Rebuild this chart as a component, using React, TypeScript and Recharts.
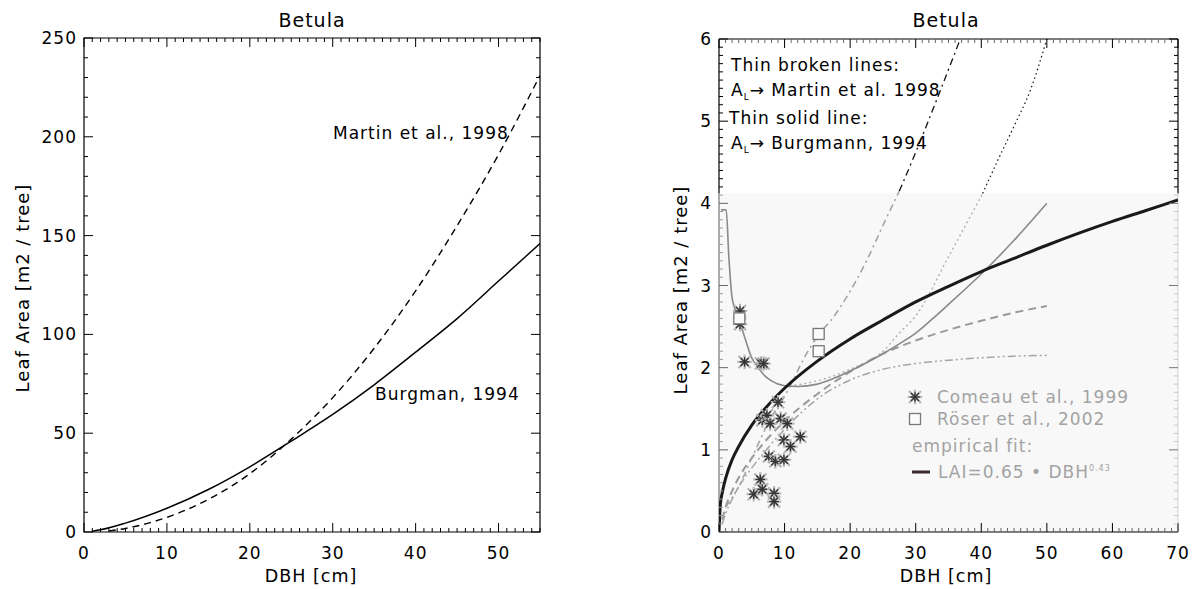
import React from 'react';
import { ComposedChart, Line, Scatter, XAxis, YAxis, ReferenceArea, ReferenceLine } from 'recharts';

const FONT = '"DejaVu Sans", sans-serif';

// ---- left panel: leaf area per tree vs DBH
const burgmanDbh = [1, 2, 5, 10, 15, 20, 25, 30, 35, 40, 45, 50, 55];
const burgmanArea = [0.4, 1.1, 4.5, 12, 21.5, 33, 46, 59.5, 74.5, 91, 108, 127, 146];
const martinDbh = [3, 5, 10, 15, 20, 25, 30, 35, 40, 45, 50, 55];
const martinArea = [0.5, 1.8, 7.4, 16.5, 29.5, 47, 68, 93, 122, 155, 191, 231];
const leftXLabels = [0, 10, 20, 30, 40, 50];
const leftYLabels = [0, 50, 100, 150, 200, 250];

// ---- right panel: LAI vs DBH
const fitDbh = [0, 0.2, 0.5, 1, 2, 3, 5, 7, 10, 15, 20, 25, 30, 35, 40, 45, 50, 55, 60, 65, 70];
const fitLai = [0, 0.33, 0.48, 0.65, 0.88, 1.04, 1.3, 1.5, 1.75, 2.08, 2.35, 2.58, 2.8, 2.99, 3.17, 3.33, 3.49, 3.64, 3.78, 3.91, 4.04];
const burgmannDbh = [0.3, 1.1, 1.5, 2, 3, 4, 5, 6, 7, 8, 10, 12, 15, 17.5, 20, 22.5, 25, 27.5, 30, 32.5, 35, 40, 45, 50];
const burgmannLai = [3.92, 3.92, 3.35, 2.85, 2.6, 2.35, 2.12, 2.0, 1.9, 1.84, 1.78, 1.77, 1.8, 1.87, 1.96, 2.06, 2.17, 2.29, 2.42, 2.59, 2.77, 3.14, 3.55, 4.0];
const dashDotLowDbh = [1, 3, 5, 8, 10, 11, 13, 15, 17.5, 20, 22.5, 25, 27.5];
const dashDotLowLai = [0.3, 0.55, 0.9, 1.4, 1.65, 1.8, 2.12, 2.38, 2.62, 2.93, 3.3, 3.73, 4.15];
const dashDotUpDbh = [27.5, 30, 33, 36.8];
const dashDotUpLai = [4.15, 4.62, 5.22, 6.0];
const dottedLowDbh = [10, 15, 20, 25, 27.5, 30, 35, 40.2];
const dottedLowLai = [1.77, 1.84, 1.98, 2.2, 2.42, 2.63, 3.35, 4.12];
const dottedUpDbh = [40.2, 42.5, 45, 47.5, 50];
const dottedUpLai = [4.12, 4.52, 4.94, 5.38, 6.0];
const dashedDbh = [0.5, 1, 2, 3, 5, 7, 10, 15, 20, 25, 30, 35, 40, 45, 50];
const dashedLai = [0.15, 0.3, 0.5, 0.66, 0.9, 1.1, 1.35, 1.68, 1.95, 2.17, 2.33, 2.46, 2.57, 2.67, 2.75];
const dash3Dbh = [0.5, 1, 2, 3, 5, 7, 10, 12.5, 15, 20, 25, 30, 35, 40, 45, 50];
const dash3Lai = [0.1, 0.22, 0.4, 0.55, 0.78, 0.98, 1.25, 1.45, 1.62, 1.85, 1.98, 2.05, 2.09, 2.12, 2.14, 2.15];
const comeauDbh = [3.2, 3.2, 3.9, 6.4, 6.8, 9.0, 6.6, 7.3, 7.8, 9.4, 10.4, 9.9, 10.9, 12.4, 7.6, 8.6, 9.9, 6.3, 5.3, 6.6, 8.4, 8.4];
const comeauLai = [2.69, 2.53, 2.07, 2.05, 2.05, 1.58, 1.36, 1.42, 1.32, 1.38, 1.32, 1.12, 1.04, 1.16, 0.92, 0.86, 0.88, 0.64, 0.46, 0.52, 0.47, 0.37];
const roeserDbh = [3.1, 15.2, 15.2];
const roeserLai = [2.6, 2.41, 2.2];
const rightXLabels = [0, 10, 20, 30, 40, 50, 60, 70];
const rightYLabels = [0, 1, 2, 3, 4, 5, 6];
const shadeTop = 4.12;

const zip = (xs: number[], ys: number[]) => xs.map((x, i) => ({ x, y: ys[i] }));
const steps = (max: number, step: number) =>
  Array.from({ length: Math.round(max / step) + 1 }, (_, i) => Math.round(i * step * 100) / 100);
const hasLabel = (labels: number[], v: number) => labels.some((l) => Math.abs(l - v) < 1e-6);

const tickText = { fontFamily: FONT, fontSize: 17, letterSpacing: 1, fill: '#000' };

function xTick(labels: number[], plotH: number, minorColor: (v: number) => string) {
  return (p: any) => {
    const { x, y, payload } = p;
    const v = payload.value;
    const major = hasLabel(labels, v);
    const len = major ? 9 : 4;
    const c = major ? '#000' : minorColor(v);
    return (
      <g>
        <line x1={x} y1={y} x2={x} y2={y - len} stroke={c} />
        <line x1={x} y1={y - plotH} x2={x} y2={y - plotH + len} stroke={c} />
        {major && (
          <text x={x} y={y + 21} textAnchor="middle" dominantBaseline="central" {...tickText}>
            {v}
          </text>
        )}
      </g>
    );
  };
}

function yTick(labels: number[], plotW: number, leftColor: (v: number, m: boolean) => string, rightColor: (v: number, m: boolean) => string) {
  return (p: any) => {
    const { x, y, payload } = p;
    const v = payload.value;
    const major = hasLabel(labels, v);
    const len = major ? 9 : 4;
    return (
      <g>
        <line x1={x} y1={y} x2={x + len} y2={y} stroke={leftColor(v, major)} />
        <line x1={x + plotW} y1={y} x2={x + plotW - len} y2={y} stroke={rightColor(v, major)} />
        {major && (
          <text x={x - 7} y={y} textAnchor="end" dominantBaseline="central" {...tickText}>
            {v}
          </text>
        )}
      </g>
    );
  };
}

function Txt({ x, y, children, anchor = 'start', color = '#000', rotate = false, size = 17 }: any) {
  const tr = anchor === 'middle' ? 'translate(-50%, -50%)' : 'translate(0, -50%)';
  return (
    <div
      style={{
        position: 'absolute',
        left: x,
        top: y,
        transform: rotate ? 'translate(-50%, -50%) rotate(-90deg)' : tr,
        whiteSpace: 'nowrap',
        fontFamily: FONT,
        fontSize: size,
        letterSpacing: 1,
        lineHeight: 1,
        color,
      }}
    >
      {children}
    </div>
  );
}

const Star = (p: any) => {
  const { cx, cy } = p;
  const arms = (r: number, c: string, w: number) => (
    <g stroke={c} strokeWidth={w}>
      <line x1={cx - r} y1={cy - r} x2={cx + r} y2={cy + r} />
      <line x1={cx - r} y1={cy + r} x2={cx + r} y2={cy - r} />
      <line x1={cx} y1={cy - r * 1.2} x2={cx} y2={cy + r * 1.2} />
      <line x1={cx - r * 1.2} y1={cy} x2={cx + r * 1.2} y2={cy} />
    </g>
  );
  return (
    <g>
      {arms(6, '#b5b5b5', 2.2)}
      {arms(4, '#333', 1.4)}
    </g>
  );
};

const Square = (p: any) => {
  const { cx, cy } = p;
  return <rect x={cx - 5.5} y={cy - 5.5} width={11} height={11} fill="#fbfbfb" stroke="#777" strokeWidth={1.3} />;
};

// axes are 1px wide/high (Recharts skips 0-size axes), ticks drawn inward by the custom tick
const axisCommon = {
  type: 'number' as const,
  interval: 0,
  allowDataOverflow: true,
  axisLine: false,
  tickLine: false,
  tickSize: 0,
  tickMargin: 0,
};

function LeftPanel() {
  const W = 600;
  const H = 589;
  const m = { top: 38, left: 83, right: 60, bottom: 56 };
  const plotW = W - m.left - 1 - m.right;
  const plotH = H - m.top - m.bottom - 1;
  return (
    <ComposedChart width={W} height={H} margin={m}>
      <XAxis {...axisCommon} dataKey="x" domain={[0, 55]} ticks={steps(55, 1)} height={1} tick={xTick(leftXLabels, plotH, () => '#000')} />
      <YAxis {...axisCommon} dataKey="y" domain={[0, 250]} ticks={steps(250, 10)} width={1} tick={yTick(leftYLabels, plotW, () => '#000', () => '#000')} />
      <ReferenceArea x1={0} x2={55} y1={0} y2={250} fill="none" stroke="#000" strokeWidth={1.2} />
      <Line data={zip(martinDbh, martinArea)} dataKey="y" type="monotone" stroke="#000" strokeWidth={1.4} strokeDasharray="7 5" dot={false} activeDot={false} isAnimationActive={false} />
      <Line data={zip(burgmanDbh, burgmanArea)} dataKey="y" type="monotone" stroke="#000" strokeWidth={1.5} dot={false} activeDot={false} isAnimationActive={false} />
    </ComposedChart>
  );
}

function RightPanel() {
  const W = 598;
  const H = 589;
  const m = { top: 39, left: 118, right: 20, bottom: 56 };
  const plotW = W - m.left - 1 - m.right;
  const plotH = H - m.top - m.bottom - 1;
  const lineBase = { dataKey: 'y', type: 'monotone' as const, dot: false, activeDot: false, isAnimationActive: false };
  return (
    <ComposedChart width={W} height={H} margin={m}>
      <ReferenceArea x1={0} x2={70} y1={0} y2={shadeTop} fill="#f8f8f8" fillOpacity={1} stroke="none" />
      <XAxis {...axisCommon} dataKey="x" domain={[0, 70]} ticks={steps(70, 1)} height={1} tick={xTick(rightXLabels, plotH, () => '#666')} />
      <YAxis
        {...axisCommon}
        dataKey="y"
        domain={[0, 6]}
        ticks={steps(6, 0.1)}
        width={1}
        tick={yTick(
          rightYLabels,
          plotW,
          (v, mj) => (v <= shadeTop ? (mj ? '#666' : '#999') : '#000'),
          (v, mj) => (v <= shadeTop ? (mj ? '#777' : '#c8c8c8') : '#000'),
        )}
      />
      <ReferenceLine segment={[{ x: 0, y: 6 }, { x: 70, y: 6 }]} stroke="#000" strokeWidth={1.2} />
      <ReferenceLine segment={[{ x: 0, y: 0 }, { x: 70, y: 0 }]} stroke="#000" strokeWidth={1.2} />
      <ReferenceLine segment={[{ x: 0, y: shadeTop }, { x: 0, y: 6 }]} stroke="#000" strokeWidth={1.2} />
      <ReferenceLine segment={[{ x: 0, y: 0 }, { x: 0, y: shadeTop }]} stroke="#777" strokeWidth={1.2} />
      <ReferenceLine segment={[{ x: 70, y: shadeTop }, { x: 70, y: 6 }]} stroke="#000" strokeWidth={1.2} />
      <ReferenceLine segment={[{ x: 70, y: 0 }, { x: 70, y: shadeTop }]} stroke="#d0d0d0" strokeWidth={1} />

      <Line {...lineBase} data={zip(dash3Dbh, dash3Lai)} stroke="#a5a5a5" strokeWidth={1.5} strokeDasharray="8 3 2 3 2 3" />
      <Line {...lineBase} data={zip(dashedDbh, dashedLai)} stroke="#9a9a9a" strokeWidth={2} strokeDasharray="8 5" />
      <Line {...lineBase} data={zip(dottedLowDbh, dottedLowLai)} stroke="#b0b0b0" strokeWidth={1.4} strokeDasharray="2 3" />
      <Line {...lineBase} data={zip(dottedUpDbh, dottedUpLai)} stroke="#111" strokeWidth={1.2} strokeDasharray="1.5 3" />
      <Line {...lineBase} data={zip(dashDotLowDbh, dashDotLowLai)} stroke="#a0a0a0" strokeWidth={1.5} strokeDasharray="7 4 2 4" />
      <Line {...lineBase} data={zip(dashDotUpDbh, dashDotUpLai)} stroke="#111" strokeWidth={1.3} strokeDasharray="7 4 2 4" />
      <Line {...lineBase} data={zip(burgmannDbh, burgmannLai)} stroke="#8a8a8a" strokeWidth={1.6} />
      <Line {...lineBase} data={zip(fitDbh, fitLai)} stroke="#1a1a1a" strokeWidth={3} />
      <Scatter data={zip(comeauDbh, comeauLai)} dataKey="y" shape={Star} isAnimationActive={false} />
      <Scatter data={zip(roeserDbh, roeserLai)} dataKey="y" shape={Square} isAnimationActive={false} />
    </ComposedChart>
  );
}

export default function App() {
  const legendGray = '#a3a3a3';
  return (
    <div style={{ position: 'absolute', left: 0, top: 0, width: 1198, height: 589, background: '#fff', overflow: 'hidden' }}>
      <div style={{ position: 'absolute', left: 0, top: 0 }}>
        <LeftPanel />
      </div>
      <div style={{ position: 'absolute', left: 600, top: 0 }}>
        <RightPanel />
      </div>

      {/* left panel texts */}
      <Txt x={312} y={20} anchor="middle" size={19}>Betula</Txt>
      <Txt x={23} y={288} rotate size={18}>Leaf Area [m2 / tree]</Txt>
      <Txt x={311} y={577} anchor="middle" size={17.5}>DBH [cm]</Txt>
      <Txt x={333} y={133}>Martin et al., 1998</Txt>
      <Txt x={375} y={394}>Burgman, 1994</Txt>

      {/* right panel texts */}
      <Txt x={946} y={20} anchor="middle" size={19}>Betula</Txt>
      <Txt x={681} y={290} rotate size={18}>Leaf Area [m2 / tree]</Txt>
      <Txt x={946} y={577} anchor="middle" size={17.5}>DBH [cm]</Txt>
      <Txt x={731} y={65}>Thin broken lines:</Txt>
      <Txt x={731} y={92}>
        A<sub style={{ fontSize: 9 }}>L</sub>→ Martin et al. 1998
      </Txt>
      <Txt x={729} y={118}>Thin solid line:</Txt>
      <Txt x={731} y={145}>
        A<sub style={{ fontSize: 9 }}>L</sub>→ Burgmann, 1994
      </Txt>

      {/* legend */}
      <svg style={{ position: 'absolute', left: 900, top: 385 }} width={30} height={100}>
        <Star cx={15} cy={12} />
        <Square cx={15} cy={34} />
        <line x1={12} y1={87} x2={32} y2={87} stroke="#3a2a2a" strokeWidth={3} />
      </svg>
      <Txt x={937} y={397} color={legendGray}>Comeau et al., 1999</Txt>
      <Txt x={937} y={419} color={legendGray}>Röser et al., 2002</Txt>
      <Txt x={912} y={446} color={legendGray}>empirical fit:</Txt>
      <Txt x={938} y={472} color={legendGray}>
        LAI=0.65 • DBH<sup style={{ fontSize: 8 }}>0.43</sup>
      </Txt>
    </div>
  );
}
